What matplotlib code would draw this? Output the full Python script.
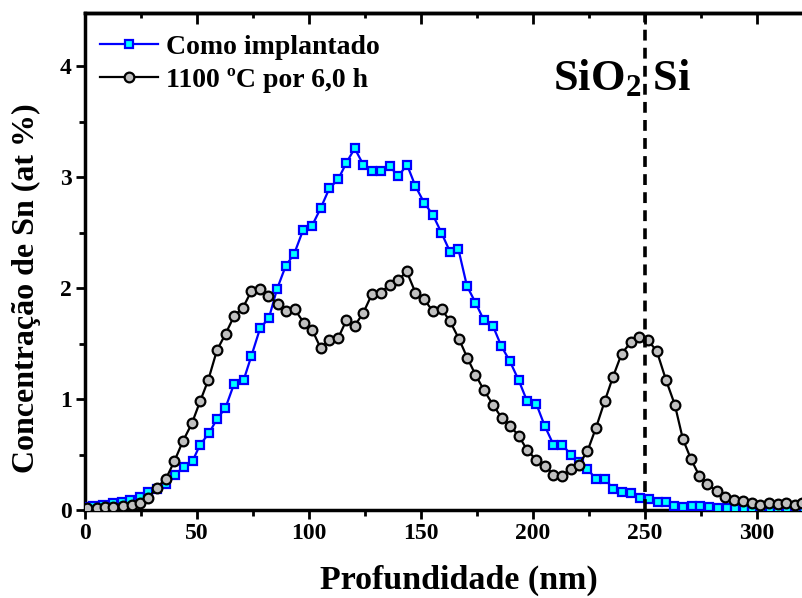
import matplotlib
matplotlib.use('Agg')
import matplotlib.pyplot as plt
from matplotlib.ticker import MultipleLocator

# ---------------- data ----------------
depth_implanted = [0.0, 3.7, 8.2, 12.7, 16.4, 20.1, 24.6, 28.3, 32.3, 36.2,
                   40.1, 44.0, 48.0, 51.4, 55.3, 58.9, 62.7, 66.6, 70.8, 74.3,
                   78.2, 82.1, 85.7, 89.6, 93.4, 97.3, 101.3, 105.2, 109.1, 113.0,
                   116.7, 120.4, 124.3, 128.3, 132.2, 136.0, 139.8, 143.8, 147.5, 151.4,
                   155.3, 159.1, 162.9, 166.7, 170.5, 174.3, 178.1, 182.1, 185.8, 189.7,
                   193.6, 197.4, 201.4, 205.2, 209.1, 213.1, 216.8, 220.5, 224.3, 228.1,
                   232.0, 235.9, 239.9, 243.9, 247.8, 251.8, 255.6, 259.3, 263.0, 267.0,
                   270.8, 274.6, 278.4, 282.4, 286.4, 290.2, 294.0, 297.9, 301.8, 305.6,
                   309.5, 313.3, 317.2, 321.0, 324.9]
conc_implanted = [0.03, 0.035, 0.045, 0.06, 0.075, 0.09, 0.12, 0.16, 0.19, 0.23,
                  0.32, 0.385, 0.44, 0.59, 0.69, 0.82, 0.92, 1.14, 1.17, 1.39,
                  1.64, 1.73, 1.99, 2.20, 2.31, 2.52, 2.56, 2.72, 2.90, 2.98,
                  3.13, 3.26, 3.11, 3.06, 3.06, 3.10, 3.01, 3.11, 2.92, 2.77,
                  2.66, 2.50, 2.33, 2.35, 2.02, 1.87, 1.71, 1.66, 1.48, 1.34,
                  1.17, 0.98, 0.96, 0.76, 0.59, 0.59, 0.50, 0.43, 0.37, 0.28,
                  0.28, 0.19, 0.16, 0.15, 0.11, 0.10, 0.07, 0.07, 0.04, 0.03,
                  0.04, 0.04, 0.03, 0.02, 0.015, 0.01, 0.01, 0.01, 0.01, 0.01,
                  0.005, 0.005, 0.005, 0.005, 0.005]

depth_annealed = [0.8, 5.2, 8.9, 12.7, 16.8, 20.9, 24.6, 28.3, 32.0, 36.1,
                  39.9, 43.7, 47.7, 51.4, 55.0, 58.9, 62.8, 66.6, 70.4, 74.2,
                  78.2, 81.9, 86.0, 89.9, 93.6, 97.6, 101.5, 105.2, 109.1, 113.0,
                  116.7, 120.4, 124.3, 128.2, 132.0, 136.0, 139.8, 143.6, 147.5, 151.4,
                  155.3, 159.2, 163.0, 167.0, 170.7, 174.3, 178.1, 182.1, 186.0, 189.7,
                  193.6, 197.4, 201.5, 205.2, 209.1, 212.9, 216.8, 220.5, 224.3, 228.1,
                  232.0, 235.7, 239.6, 243.6, 247.5, 251.4, 255.3, 259.4, 263.3, 266.9,
                  270.5, 274.2, 277.9, 282.1, 285.8, 289.8, 293.8, 297.6, 301.4, 305.5,
                  309.2, 313.1, 317.0, 320.2, 324.0]
conc_annealed = [0.015, 0.02, 0.024, 0.027, 0.036, 0.045, 0.06, 0.11, 0.20, 0.28,
                 0.44, 0.62, 0.78, 0.98, 1.17, 1.44, 1.59, 1.75, 1.82, 1.97,
                 1.99, 1.93, 1.86, 1.79, 1.81, 1.69, 1.62, 1.46, 1.53, 1.55,
                 1.71, 1.66, 1.78, 1.95, 1.96, 2.03, 2.07, 2.15, 1.96, 1.90,
                 1.79, 1.81, 1.70, 1.54, 1.37, 1.22, 1.08, 0.95, 0.83, 0.76,
                 0.67, 0.54, 0.45, 0.40, 0.32, 0.31, 0.37, 0.41, 0.53, 0.74,
                 0.98, 1.20, 1.41, 1.51, 1.56, 1.53, 1.43, 1.17, 0.95, 0.64,
                 0.46, 0.31, 0.23, 0.17, 0.115, 0.09, 0.08, 0.06, 0.045, 0.066,
                 0.05, 0.066, 0.045, 0.06, 0.05]

label_implanted = 'Como implantado'
label_annealed = '1100 ºC por 6,0 h'
interface_depth = 250
x_label = 'Profundidade (nm)'
y_label = 'Concentração de Sn (at %)'

# ---------------- style ----------------
plt.rcParams['font.family'] = ['Liberation Serif', 'DejaVu Serif']
plt.rcParams['font.weight'] = 'bold'
plt.rcParams['axes.labelweight'] = 'bold'
plt.rcParams['mathtext.fontset'] = 'custom'
plt.rcParams['mathtext.rm'] = 'Liberation Serif:bold'
plt.rcParams['mathtext.bf'] = 'Liberation Serif:bold'
plt.rcParams['mathtext.it'] = 'Liberation Serif:bold:italic'

W, H = 803, 598
fig = plt.figure(figsize=(W / 100, H / 100), dpi=100)
ax = fig.add_axes([85 / W, 88 / H, (813 - 85) / W, 497 / H])

ax.plot(depth_implanted, conc_implanted, color='#0000FF', lw=1.6, marker='s',
        ms=6.0, mfc='#00FFFF', mec='#0000FF', mew=1.6, label=label_implanted,
        zorder=3)
ax.plot(depth_annealed, conc_annealed, color='black', lw=1.6, marker='o',
        ms=7.0, mfc='#C0C0C0', mec='black', mew=1.6, label=label_annealed,
        zorder=4)
ax.axvline(interface_depth, color='black', lw=2.6, ls=(0, (3, 2)), zorder=5)

ax.set_xlim(0, 325)
ax.set_ylim(0, 4.48)
ax.xaxis.set_major_locator(MultipleLocator(50))
ax.xaxis.set_minor_locator(MultipleLocator(25))
ax.yaxis.set_major_locator(MultipleLocator(1))
ax.yaxis.set_minor_locator(MultipleLocator(0.5))

for sp in ax.spines.values():
    sp.set_linewidth(2.5)

ax.tick_params(which='major', direction='out', length=6.5, width=2.0,
               labelsize=17, pad=3)
ax.tick_params(which='minor', direction='out', length=4.0, width=2.0)
for lab in ax.get_xticklabels() + ax.get_yticklabels():
    lab.set_fontweight('bold')

# mirrored inward ticks on top and right
secx = ax.secondary_xaxis('top')
secx.xaxis.set_major_locator(MultipleLocator(50))
secx.xaxis.set_minor_locator(MultipleLocator(25))
secx.tick_params(which='major', direction='in', length=8, width=2.0, labeltop=False)
secx.tick_params(which='minor', direction='in', length=3.8, width=2.0)
secx.spines['top'].set_linewidth(2.5)

secy = ax.secondary_yaxis('right')
secy.yaxis.set_major_locator(MultipleLocator(1))
secy.yaxis.set_minor_locator(MultipleLocator(0.5))
secy.tick_params(which='major', direction='in', length=8, width=2.0, labelright=False)
secy.tick_params(which='minor', direction='in', length=3.8, width=2.0)
secy.spines['right'].set_linewidth(2.5)

ax.set_xlabel(x_label, fontsize=24.5, fontweight='bold')
ax.set_ylabel(y_label, fontsize=23, fontweight='bold')
ax.xaxis.set_label_coords((459 - 85) / 728, -(589 - 510) / 497)
ax.xaxis.label.set_va('baseline')
ax.yaxis.set_label_coords(-(85 - 26) / 728, (510 - 288) / 497)
ax.yaxis.label.set_va('center')

leg = ax.legend(loc='upper left', bbox_to_anchor=(0.02, 0.957), frameon=False,
                prop={'size': 20, 'weight': 'bold'}, handlelength=2.1,
                handletextpad=0.3, labelspacing=0.27, borderpad=0,
                borderaxespad=0, numpoints=1)

fig.text(553 / W, 1 - 90 / H, 'SiO$_{2}$ Si', fontsize=32, ha='left',
         va='baseline', fontweight='bold')

fig.savefig('out.png', dpi=100)
